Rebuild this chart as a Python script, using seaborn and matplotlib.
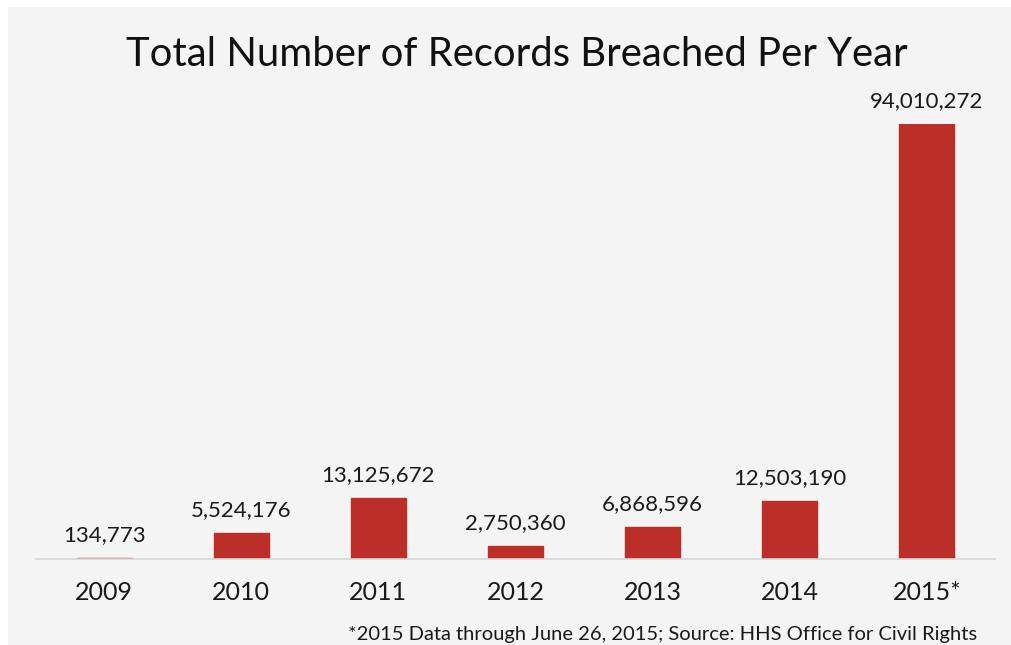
import matplotlib
matplotlib.use("Agg")
import matplotlib.pyplot as plt
import seaborn as sns
import pandas as pd
from matplotlib.patches import Rectangle

years = ["2009", "2010", "2011", "2012", "2013", "2014", "2015*"]
records = [134773, 5524176, 13125672, 2750360, 6868596, 12503190, 94010272]
title = "Total Number of Records Breached Per Year"
footnote = "*2015 Data through June 26, 2015; Source: HHS Office for Civil Rights"

sns.set_theme(style="white")
plt.rcParams["font.family"] = ["Lato", "DejaVu Sans"]

W, H = 1012, 645
fig = plt.figure(figsize=(W / 100, H / 100), dpi=100, facecolor="white")
fig.patches.append(Rectangle((8 / W, 0), 1 - 8 / W, 1 - 7 / H, transform=fig.transFigure,
                             facecolor="#f4f4f4", edgecolor="none", zorder=-10))

ax = fig.add_axes([35.5 / W, (H - 559) / H, 960 / W, (559 - 124) / H])
ax.set_facecolor("none")
ax.set_zorder(1)

df = pd.DataFrame({"year": years, "records": records})
sns.barplot(data=df, x="year", y="records", color="#bc2f28", saturation=1, width=0.4,
            edgecolor="#bc2f28", linewidth=1.0, ax=ax)

ax.set_xlim(-0.5, 6.5)
ax.set_ylim(0, max(records))
for s in ["top", "right", "left"]:
    ax.spines[s].set_visible(False)
ax.spines["bottom"].set_color("#d6d6d6")
ax.spines["bottom"].set_linewidth(1.2)
ax.set_yticks([])
ax.set_xlabel("")
ax.set_ylabel("")
ax.tick_params(axis="x", length=0, pad=16, labelsize=18, colors="#1a1a1a")

for i, v in enumerate(records):
    ax.annotate(f"{v:,}", xy=(i, v), xytext=(0, 12.5), textcoords="offset points",
                ha="center", va="baseline", fontsize=16, color="#1a1a1a", annotation_clip=False)

fig.text(517 / W, 1 - 66 / H, title, ha="center", va="baseline", fontsize=28.8, color="#111111")
fig.text(977 / W, 1 - 640 / H, footnote, ha="right", va="baseline", fontsize=14.5, color="#1a1a1a")

fig.savefig("out.png", dpi=100, facecolor="white")
